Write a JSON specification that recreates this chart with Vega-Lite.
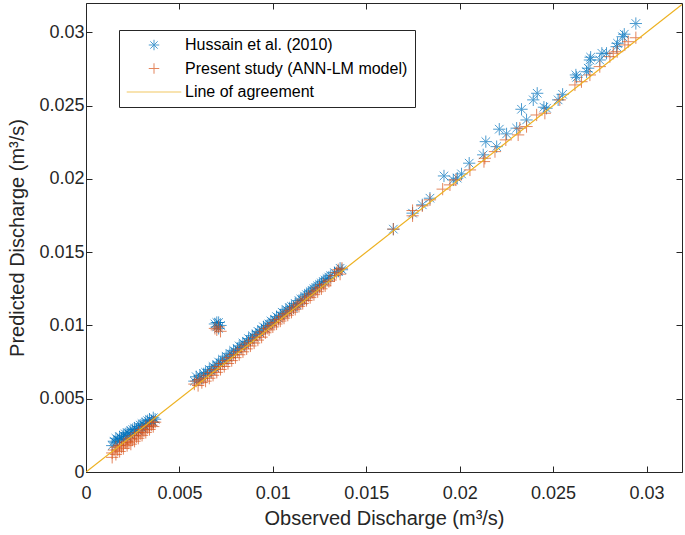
{
  "$schema": "https://vega.github.io/schema/vega-lite/v6.json",
  "autosize": "none",
  "width": 596,
  "height": 469,
  "padding": {"left": 86, "top": 3, "right": 3, "bottom": 63},
  "background": "white",
  "config": {
    "font": "Liberation Sans",
    "view": {"stroke": null},
    "axis": {"grid": false, "domainColor": "#262626", "tickColor": "#262626", "labelColor": "#262626", "titleColor": "#262626", "labelFont": "Liberation Sans", "titleFont": "Liberation Sans", "labelFontSize": 18, "titleFontSize": 20, "titleFontWeight": "normal", "tickSize": -6, "domainWidth": 1, "tickWidth": 1}
  },
  "datasets": {
    "pts": [
      {"obs":0.0014,"pred":0.0018,"series":"Hussain et al. (2010)"},
      {"obs":0.0015,"pred":0.0021,"series":"Hussain et al. (2010)"},
      {"obs":0.0016,"pred":0.0020,"series":"Hussain et al. (2010)"},
      {"obs":0.0016,"pred":0.0023,"series":"Hussain et al. (2010)"},
      {"obs":0.0017,"pred":0.0022,"series":"Hussain et al. (2010)"},
      {"obs":0.0018,"pred":0.0021,"series":"Hussain et al. (2010)"},
      {"obs":0.0018,"pred":0.0024,"series":"Hussain et al. (2010)"},
      {"obs":0.0019,"pred":0.0023,"series":"Hussain et al. (2010)"},
      {"obs":0.0020,"pred":0.0025,"series":"Hussain et al. (2010)"},
      {"obs":0.0020,"pred":0.0022,"series":"Hussain et al. (2010)"},
      {"obs":0.0021,"pred":0.0026,"series":"Hussain et al. (2010)"},
      {"obs":0.0022,"pred":0.0024,"series":"Hussain et al. (2010)"},
      {"obs":0.0022,"pred":0.0027,"series":"Hussain et al. (2010)"},
      {"obs":0.0023,"pred":0.0026,"series":"Hussain et al. (2010)"},
      {"obs":0.0024,"pred":0.0028,"series":"Hussain et al. (2010)"},
      {"obs":0.0024,"pred":0.0025,"series":"Hussain et al. (2010)"},
      {"obs":0.0025,"pred":0.0029,"series":"Hussain et al. (2010)"},
      {"obs":0.0026,"pred":0.0027,"series":"Hussain et al. (2010)"},
      {"obs":0.0026,"pred":0.0030,"series":"Hussain et al. (2010)"},
      {"obs":0.0027,"pred":0.0029,"series":"Hussain et al. (2010)"},
      {"obs":0.0028,"pred":0.0031,"series":"Hussain et al. (2010)"},
      {"obs":0.0028,"pred":0.0028,"series":"Hussain et al. (2010)"},
      {"obs":0.0029,"pred":0.0032,"series":"Hussain et al. (2010)"},
      {"obs":0.0030,"pred":0.0030,"series":"Hussain et al. (2010)"},
      {"obs":0.0030,"pred":0.0033,"series":"Hussain et al. (2010)"},
      {"obs":0.0031,"pred":0.0032,"series":"Hussain et al. (2010)"},
      {"obs":0.0032,"pred":0.0034,"series":"Hussain et al. (2010)"},
      {"obs":0.0032,"pred":0.0031,"series":"Hussain et al. (2010)"},
      {"obs":0.0033,"pred":0.0035,"series":"Hussain et al. (2010)"},
      {"obs":0.0034,"pred":0.0033,"series":"Hussain et al. (2010)"},
      {"obs":0.0034,"pred":0.0036,"series":"Hussain et al. (2010)"},
      {"obs":0.0035,"pred":0.0035,"series":"Hussain et al. (2010)"},
      {"obs":0.0036,"pred":0.0037,"series":"Hussain et al. (2010)"},
      {"obs":0.0036,"pred":0.0034,"series":"Hussain et al. (2010)"},
      {"obs":0.0037,"pred":0.0036,"series":"Hussain et al. (2010)"},
      {"obs":0.0058,"pred":0.0062,"series":"Hussain et al. (2010)"},
      {"obs":0.0059,"pred":0.0065,"series":"Hussain et al. (2010)"},
      {"obs":0.0060,"pred":0.0063,"series":"Hussain et al. (2010)"},
      {"obs":0.0061,"pred":0.0066,"series":"Hussain et al. (2010)"},
      {"obs":0.0062,"pred":0.0064,"series":"Hussain et al. (2010)"},
      {"obs":0.0063,"pred":0.0067,"series":"Hussain et al. (2010)"},
      {"obs":0.0064,"pred":0.0068,"series":"Hussain et al. (2010)"},
      {"obs":0.0065,"pred":0.0067,"series":"Hussain et al. (2010)"},
      {"obs":0.0066,"pred":0.0070,"series":"Hussain et al. (2010)"},
      {"obs":0.0067,"pred":0.0069,"series":"Hussain et al. (2010)"},
      {"obs":0.0068,"pred":0.0072,"series":"Hussain et al. (2010)"},
      {"obs":0.0069,"pred":0.0071,"series":"Hussain et al. (2010)"},
      {"obs":0.0070,"pred":0.0073,"series":"Hussain et al. (2010)"},
      {"obs":0.0071,"pred":0.0075,"series":"Hussain et al. (2010)"},
      {"obs":0.0072,"pred":0.0074,"series":"Hussain et al. (2010)"},
      {"obs":0.0073,"pred":0.0077,"series":"Hussain et al. (2010)"},
      {"obs":0.0074,"pred":0.0076,"series":"Hussain et al. (2010)"},
      {"obs":0.0075,"pred":0.0079,"series":"Hussain et al. (2010)"},
      {"obs":0.0076,"pred":0.0078,"series":"Hussain et al. (2010)"},
      {"obs":0.0077,"pred":0.0081,"series":"Hussain et al. (2010)"},
      {"obs":0.0078,"pred":0.0080,"series":"Hussain et al. (2010)"},
      {"obs":0.0079,"pred":0.0083,"series":"Hussain et al. (2010)"},
      {"obs":0.0080,"pred":0.0082,"series":"Hussain et al. (2010)"},
      {"obs":0.0081,"pred":0.0084,"series":"Hussain et al. (2010)"},
      {"obs":0.0082,"pred":0.0086,"series":"Hussain et al. (2010)"},
      {"obs":0.0083,"pred":0.0085,"series":"Hussain et al. (2010)"},
      {"obs":0.0084,"pred":0.0088,"series":"Hussain et al. (2010)"},
      {"obs":0.0085,"pred":0.0087,"series":"Hussain et al. (2010)"},
      {"obs":0.0086,"pred":0.0089,"series":"Hussain et al. (2010)"},
      {"obs":0.0087,"pred":0.0091,"series":"Hussain et al. (2010)"},
      {"obs":0.0088,"pred":0.0090,"series":"Hussain et al. (2010)"},
      {"obs":0.0089,"pred":0.0093,"series":"Hussain et al. (2010)"},
      {"obs":0.0090,"pred":0.0092,"series":"Hussain et al. (2010)"},
      {"obs":0.0091,"pred":0.0094,"series":"Hussain et al. (2010)"},
      {"obs":0.0092,"pred":0.0096,"series":"Hussain et al. (2010)"},
      {"obs":0.0093,"pred":0.0095,"series":"Hussain et al. (2010)"},
      {"obs":0.0094,"pred":0.0097,"series":"Hussain et al. (2010)"},
      {"obs":0.0095,"pred":0.0099,"series":"Hussain et al. (2010)"},
      {"obs":0.0096,"pred":0.0098,"series":"Hussain et al. (2010)"},
      {"obs":0.0097,"pred":0.0100,"series":"Hussain et al. (2010)"},
      {"obs":0.0098,"pred":0.0101,"series":"Hussain et al. (2010)"},
      {"obs":0.0099,"pred":0.0103,"series":"Hussain et al. (2010)"},
      {"obs":0.0100,"pred":0.0102,"series":"Hussain et al. (2010)"},
      {"obs":0.0101,"pred":0.0104,"series":"Hussain et al. (2010)"},
      {"obs":0.0102,"pred":0.0106,"series":"Hussain et al. (2010)"},
      {"obs":0.0103,"pred":0.0105,"series":"Hussain et al. (2010)"},
      {"obs":0.0104,"pred":0.0107,"series":"Hussain et al. (2010)"},
      {"obs":0.0105,"pred":0.0109,"series":"Hussain et al. (2010)"},
      {"obs":0.0106,"pred":0.0108,"series":"Hussain et al. (2010)"},
      {"obs":0.0107,"pred":0.0111,"series":"Hussain et al. (2010)"},
      {"obs":0.0108,"pred":0.0110,"series":"Hussain et al. (2010)"},
      {"obs":0.0109,"pred":0.0112,"series":"Hussain et al. (2010)"},
      {"obs":0.0110,"pred":0.0113,"series":"Hussain et al. (2010)"},
      {"obs":0.0111,"pred":0.0112,"series":"Hussain et al. (2010)"},
      {"obs":0.0112,"pred":0.0115,"series":"Hussain et al. (2010)"},
      {"obs":0.0113,"pred":0.0114,"series":"Hussain et al. (2010)"},
      {"obs":0.0114,"pred":0.0117,"series":"Hussain et al. (2010)"},
      {"obs":0.0115,"pred":0.0118,"series":"Hussain et al. (2010)"},
      {"obs":0.0116,"pred":0.0117,"series":"Hussain et al. (2010)"},
      {"obs":0.0117,"pred":0.0120,"series":"Hussain et al. (2010)"},
      {"obs":0.0118,"pred":0.0121,"series":"Hussain et al. (2010)"},
      {"obs":0.0119,"pred":0.0122,"series":"Hussain et al. (2010)"},
      {"obs":0.0120,"pred":0.0123,"series":"Hussain et al. (2010)"},
      {"obs":0.0121,"pred":0.0124,"series":"Hussain et al. (2010)"},
      {"obs":0.0122,"pred":0.0125,"series":"Hussain et al. (2010)"},
      {"obs":0.0123,"pred":0.0126,"series":"Hussain et al. (2010)"},
      {"obs":0.0124,"pred":0.0127,"series":"Hussain et al. (2010)"},
      {"obs":0.0125,"pred":0.0128,"series":"Hussain et al. (2010)"},
      {"obs":0.0126,"pred":0.0129,"series":"Hussain et al. (2010)"},
      {"obs":0.0127,"pred":0.0130,"series":"Hussain et al. (2010)"},
      {"obs":0.0128,"pred":0.0131,"series":"Hussain et al. (2010)"},
      {"obs":0.0129,"pred":0.0132,"series":"Hussain et al. (2010)"},
      {"obs":0.0130,"pred":0.0133,"series":"Hussain et al. (2010)"},
      {"obs":0.0131,"pred":0.0134,"series":"Hussain et al. (2010)"},
      {"obs":0.0133,"pred":0.0136,"series":"Hussain et al. (2010)"},
      {"obs":0.0135,"pred":0.0137,"series":"Hussain et al. (2010)"},
      {"obs":0.0136,"pred":0.0139,"series":"Hussain et al. (2010)"},
      {"obs":0.0137,"pred":0.0138,"series":"Hussain et al. (2010)"},
      {"obs":0.0069,"pred":0.0101,"series":"Hussain et al. (2010)"},
      {"obs":0.0070,"pred":0.0099,"series":"Hussain et al. (2010)"},
      {"obs":0.0071,"pred":0.0102,"series":"Hussain et al. (2010)"},
      {"obs":0.0072,"pred":0.0100,"series":"Hussain et al. (2010)"},
      {"obs":0.0070,"pred":0.0102,"series":"Hussain et al. (2010)"},
      {"obs":0.0071,"pred":0.0098,"series":"Hussain et al. (2010)"},
      {"obs":0.02943,"pred":0.03060,"series":"Hussain et al. (2010)"},
      {"obs":0.02881,"pred":0.02987,"series":"Hussain et al. (2010)"},
      {"obs":0.02872,"pred":0.02970,"series":"Hussain et al. (2010)"},
      {"obs":0.02845,"pred":0.02925,"series":"Hussain et al. (2010)"},
      {"obs":0.02840,"pred":0.02902,"series":"Hussain et al. (2010)"},
      {"obs":0.02786,"pred":0.02857,"series":"Hussain et al. (2010)"},
      {"obs":0.02761,"pred":0.02857,"series":"Hussain et al. (2010)"},
      {"obs":0.02750,"pred":0.02811,"series":"Hussain et al. (2010)"},
      {"obs":0.02701,"pred":0.02830,"series":"Hussain et al. (2010)"},
      {"obs":0.02697,"pred":0.02811,"series":"Hussain et al. (2010)"},
      {"obs":0.02688,"pred":0.02755,"series":"Hussain et al. (2010)"},
      {"obs":0.02679,"pred":0.02731,"series":"Hussain et al. (2010)"},
      {"obs":0.02626,"pred":0.02693,"series":"Hussain et al. (2010)"},
      {"obs":0.02622,"pred":0.02709,"series":"Hussain et al. (2010)"},
      {"obs":0.02551,"pred":0.02577,"series":"Hussain et al. (2010)"},
      {"obs":0.02527,"pred":0.02539,"series":"Hussain et al. (2010)"},
      {"obs":0.02465,"pred":0.02482,"series":"Hussain et al. (2010)"},
      {"obs":0.02451,"pred":0.02489,"series":"Hussain et al. (2010)"},
      {"obs":0.02415,"pred":0.02584,"series":"Hussain et al. (2010)"},
      {"obs":0.02394,"pred":0.02539,"series":"Hussain et al. (2010)"},
      {"obs":0.02358,"pred":0.02402,"series":"Hussain et al. (2010)"},
      {"obs":0.02331,"pred":0.02475,"series":"Hussain et al. (2010)"},
      {"obs":0.02305,"pred":0.02346,"series":"Hussain et al. (2010)"},
      {"obs":0.02251,"pred":0.02307,"series":"Hussain et al. (2010)"},
      {"obs":0.02212,"pred":0.02339,"series":"Hussain et al. (2010)"},
      {"obs":0.02198,"pred":0.02220,"series":"Hussain et al. (2010)"},
      {"obs":0.02140,"pred":0.02254,"series":"Hussain et al. (2010)"},
      {"obs":0.02126,"pred":0.02164,"series":"Hussain et al. (2010)"},
      {"obs":0.02051,"pred":0.02107,"series":"Hussain et al. (2010)"},
      {"obs":0.02010,"pred":0.02034,"series":"Hussain et al. (2010)"},
      {"obs":0.01987,"pred":0.02005,"series":"Hussain et al. (2010)"},
      {"obs":0.01966,"pred":0.01993,"series":"Hussain et al. (2010)"},
      {"obs":0.01916,"pred":0.02020,"series":"Hussain et al. (2010)"},
      {"obs":0.01841,"pred":0.01868,"series":"Hussain et al. (2010)"},
      {"obs":0.01800,"pred":0.01823,"series":"Hussain et al. (2010)"},
      {"obs":0.01748,"pred":0.01766,"series":"Hussain et al. (2010)"},
      {"obs":0.01645,"pred":0.01657,"series":"Hussain et al. (2010)"},
      {"obs":0.0014,"pred":0.0010,"series":"Present study (ANN-LM model)"},
      {"obs":0.0014,"pred":0.0013,"series":"Present study (ANN-LM model)"},
      {"obs":0.0015,"pred":0.0015,"series":"Present study (ANN-LM model)"},
      {"obs":0.0016,"pred":0.0012,"series":"Present study (ANN-LM model)"},
      {"obs":0.0016,"pred":0.0017,"series":"Present study (ANN-LM model)"},
      {"obs":0.0017,"pred":0.0015,"series":"Present study (ANN-LM model)"},
      {"obs":0.0018,"pred":0.0018,"series":"Present study (ANN-LM model)"},
      {"obs":0.0018,"pred":0.0014,"series":"Present study (ANN-LM model)"},
      {"obs":0.0019,"pred":0.0017,"series":"Present study (ANN-LM model)"},
      {"obs":0.0020,"pred":0.0019,"series":"Present study (ANN-LM model)"},
      {"obs":0.0020,"pred":0.0016,"series":"Present study (ANN-LM model)"},
      {"obs":0.0021,"pred":0.0020,"series":"Present study (ANN-LM model)"},
      {"obs":0.0022,"pred":0.0018,"series":"Present study (ANN-LM model)"},
      {"obs":0.0022,"pred":0.0021,"series":"Present study (ANN-LM model)"},
      {"obs":0.0023,"pred":0.0020,"series":"Present study (ANN-LM model)"},
      {"obs":0.0024,"pred":0.0023,"series":"Present study (ANN-LM model)"},
      {"obs":0.0024,"pred":0.0019,"series":"Present study (ANN-LM model)"},
      {"obs":0.0025,"pred":0.0022,"series":"Present study (ANN-LM model)"},
      {"obs":0.0026,"pred":0.0025,"series":"Present study (ANN-LM model)"},
      {"obs":0.0026,"pred":0.0021,"series":"Present study (ANN-LM model)"},
      {"obs":0.0027,"pred":0.0024,"series":"Present study (ANN-LM model)"},
      {"obs":0.0028,"pred":0.0027,"series":"Present study (ANN-LM model)"},
      {"obs":0.0028,"pred":0.0023,"series":"Present study (ANN-LM model)"},
      {"obs":0.0029,"pred":0.0026,"series":"Present study (ANN-LM model)"},
      {"obs":0.0030,"pred":0.0029,"series":"Present study (ANN-LM model)"},
      {"obs":0.0030,"pred":0.0025,"series":"Present study (ANN-LM model)"},
      {"obs":0.0031,"pred":0.0028,"series":"Present study (ANN-LM model)"},
      {"obs":0.0032,"pred":0.0031,"series":"Present study (ANN-LM model)"},
      {"obs":0.0032,"pred":0.0027,"series":"Present study (ANN-LM model)"},
      {"obs":0.0033,"pred":0.0030,"series":"Present study (ANN-LM model)"},
      {"obs":0.0034,"pred":0.0032,"series":"Present study (ANN-LM model)"},
      {"obs":0.0034,"pred":0.0029,"series":"Present study (ANN-LM model)"},
      {"obs":0.0035,"pred":0.0032,"series":"Present study (ANN-LM model)"},
      {"obs":0.0036,"pred":0.0034,"series":"Present study (ANN-LM model)"},
      {"obs":0.0036,"pred":0.0031,"series":"Present study (ANN-LM model)"},
      {"obs":0.0037,"pred":0.0034,"series":"Present study (ANN-LM model)"},
      {"obs":0.0058,"pred":0.0060,"series":"Present study (ANN-LM model)"},
      {"obs":0.0059,"pred":0.0062,"series":"Present study (ANN-LM model)"},
      {"obs":0.0060,"pred":0.0059,"series":"Present study (ANN-LM model)"},
      {"obs":0.0061,"pred":0.0063,"series":"Present study (ANN-LM model)"},
      {"obs":0.0062,"pred":0.0061,"series":"Present study (ANN-LM model)"},
      {"obs":0.0063,"pred":0.0064,"series":"Present study (ANN-LM model)"},
      {"obs":0.0064,"pred":0.0062,"series":"Present study (ANN-LM model)"},
      {"obs":0.0065,"pred":0.0066,"series":"Present study (ANN-LM model)"},
      {"obs":0.0066,"pred":0.0064,"series":"Present study (ANN-LM model)"},
      {"obs":0.0067,"pred":0.0068,"series":"Present study (ANN-LM model)"},
      {"obs":0.0068,"pred":0.0066,"series":"Present study (ANN-LM model)"},
      {"obs":0.0069,"pred":0.0070,"series":"Present study (ANN-LM model)"},
      {"obs":0.0070,"pred":0.0068,"series":"Present study (ANN-LM model)"},
      {"obs":0.0071,"pred":0.0072,"series":"Present study (ANN-LM model)"},
      {"obs":0.0072,"pred":0.0070,"series":"Present study (ANN-LM model)"},
      {"obs":0.0073,"pred":0.0074,"series":"Present study (ANN-LM model)"},
      {"obs":0.0074,"pred":0.0072,"series":"Present study (ANN-LM model)"},
      {"obs":0.0075,"pred":0.0076,"series":"Present study (ANN-LM model)"},
      {"obs":0.0076,"pred":0.0074,"series":"Present study (ANN-LM model)"},
      {"obs":0.0077,"pred":0.0078,"series":"Present study (ANN-LM model)"},
      {"obs":0.0078,"pred":0.0076,"series":"Present study (ANN-LM model)"},
      {"obs":0.0079,"pred":0.0080,"series":"Present study (ANN-LM model)"},
      {"obs":0.0080,"pred":0.0078,"series":"Present study (ANN-LM model)"},
      {"obs":0.0081,"pred":0.0082,"series":"Present study (ANN-LM model)"},
      {"obs":0.0082,"pred":0.0080,"series":"Present study (ANN-LM model)"},
      {"obs":0.0083,"pred":0.0084,"series":"Present study (ANN-LM model)"},
      {"obs":0.0084,"pred":0.0082,"series":"Present study (ANN-LM model)"},
      {"obs":0.0085,"pred":0.0086,"series":"Present study (ANN-LM model)"},
      {"obs":0.0086,"pred":0.0084,"series":"Present study (ANN-LM model)"},
      {"obs":0.0087,"pred":0.0088,"series":"Present study (ANN-LM model)"},
      {"obs":0.0088,"pred":0.0086,"series":"Present study (ANN-LM model)"},
      {"obs":0.0089,"pred":0.0090,"series":"Present study (ANN-LM model)"},
      {"obs":0.0090,"pred":0.0088,"series":"Present study (ANN-LM model)"},
      {"obs":0.0091,"pred":0.0092,"series":"Present study (ANN-LM model)"},
      {"obs":0.0092,"pred":0.0090,"series":"Present study (ANN-LM model)"},
      {"obs":0.0093,"pred":0.0094,"series":"Present study (ANN-LM model)"},
      {"obs":0.0094,"pred":0.0092,"series":"Present study (ANN-LM model)"},
      {"obs":0.0095,"pred":0.0096,"series":"Present study (ANN-LM model)"},
      {"obs":0.0096,"pred":0.0095,"series":"Present study (ANN-LM model)"},
      {"obs":0.0097,"pred":0.0098,"series":"Present study (ANN-LM model)"},
      {"obs":0.0098,"pred":0.0097,"series":"Present study (ANN-LM model)"},
      {"obs":0.0099,"pred":0.0100,"series":"Present study (ANN-LM model)"},
      {"obs":0.0100,"pred":0.0099,"series":"Present study (ANN-LM model)"},
      {"obs":0.0101,"pred":0.0102,"series":"Present study (ANN-LM model)"},
      {"obs":0.0102,"pred":0.0101,"series":"Present study (ANN-LM model)"},
      {"obs":0.0103,"pred":0.0104,"series":"Present study (ANN-LM model)"},
      {"obs":0.0104,"pred":0.0103,"series":"Present study (ANN-LM model)"},
      {"obs":0.0105,"pred":0.0106,"series":"Present study (ANN-LM model)"},
      {"obs":0.0106,"pred":0.0105,"series":"Present study (ANN-LM model)"},
      {"obs":0.0107,"pred":0.0108,"series":"Present study (ANN-LM model)"},
      {"obs":0.0108,"pred":0.0107,"series":"Present study (ANN-LM model)"},
      {"obs":0.0109,"pred":0.0110,"series":"Present study (ANN-LM model)"},
      {"obs":0.0110,"pred":0.0109,"series":"Present study (ANN-LM model)"},
      {"obs":0.0111,"pred":0.0112,"series":"Present study (ANN-LM model)"},
      {"obs":0.0112,"pred":0.0111,"series":"Present study (ANN-LM model)"},
      {"obs":0.0113,"pred":0.0114,"series":"Present study (ANN-LM model)"},
      {"obs":0.0114,"pred":0.0113,"series":"Present study (ANN-LM model)"},
      {"obs":0.0115,"pred":0.0116,"series":"Present study (ANN-LM model)"},
      {"obs":0.0116,"pred":0.0115,"series":"Present study (ANN-LM model)"},
      {"obs":0.0117,"pred":0.0118,"series":"Present study (ANN-LM model)"},
      {"obs":0.0118,"pred":0.0117,"series":"Present study (ANN-LM model)"},
      {"obs":0.0119,"pred":0.0120,"series":"Present study (ANN-LM model)"},
      {"obs":0.0120,"pred":0.0119,"series":"Present study (ANN-LM model)"},
      {"obs":0.0121,"pred":0.0122,"series":"Present study (ANN-LM model)"},
      {"obs":0.0122,"pred":0.0121,"series":"Present study (ANN-LM model)"},
      {"obs":0.0123,"pred":0.0124,"series":"Present study (ANN-LM model)"},
      {"obs":0.0124,"pred":0.0123,"series":"Present study (ANN-LM model)"},
      {"obs":0.0125,"pred":0.0126,"series":"Present study (ANN-LM model)"},
      {"obs":0.0126,"pred":0.0125,"series":"Present study (ANN-LM model)"},
      {"obs":0.0127,"pred":0.0128,"series":"Present study (ANN-LM model)"},
      {"obs":0.0128,"pred":0.0127,"series":"Present study (ANN-LM model)"},
      {"obs":0.0130,"pred":0.0130,"series":"Present study (ANN-LM model)"},
      {"obs":0.0131,"pred":0.0131,"series":"Present study (ANN-LM model)"},
      {"obs":0.0133,"pred":0.0134,"series":"Present study (ANN-LM model)"},
      {"obs":0.0134,"pred":0.0136,"series":"Present study (ANN-LM model)"},
      {"obs":0.0135,"pred":0.0138,"series":"Present study (ANN-LM model)"},
      {"obs":0.0136,"pred":0.0135,"series":"Present study (ANN-LM model)"},
      {"obs":0.0137,"pred":0.0139,"series":"Present study (ANN-LM model)"},
      {"obs":0.0069,"pred":0.0098,"series":"Present study (ANN-LM model)"},
      {"obs":0.0070,"pred":0.0097,"series":"Present study (ANN-LM model)"},
      {"obs":0.0071,"pred":0.0099,"series":"Present study (ANN-LM model)"},
      {"obs":0.0072,"pred":0.0096,"series":"Present study (ANN-LM model)"},
      {"obs":0.02943,"pred":0.02963,"series":"Present study (ANN-LM model)"},
      {"obs":0.02902,"pred":0.02936,"series":"Present study (ANN-LM model)"},
      {"obs":0.02884,"pred":0.02914,"series":"Present study (ANN-LM model)"},
      {"obs":0.02843,"pred":0.02868,"series":"Present study (ANN-LM model)"},
      {"obs":0.02822,"pred":0.02857,"series":"Present study (ANN-LM model)"},
      {"obs":0.02804,"pred":0.02834,"series":"Present study (ANN-LM model)"},
      {"obs":0.02750,"pred":0.02766,"series":"Present study (ANN-LM model)"},
      {"obs":0.02697,"pred":0.02709,"series":"Present study (ANN-LM model)"},
      {"obs":0.02652,"pred":0.02663,"series":"Present study (ANN-LM model)"},
      {"obs":0.02617,"pred":0.02641,"series":"Present study (ANN-LM model)"},
      {"obs":0.02536,"pred":0.02539,"series":"Present study (ANN-LM model)"},
      {"obs":0.02456,"pred":0.02448,"series":"Present study (ANN-LM model)"},
      {"obs":0.02412,"pred":0.02436,"series":"Present study (ANN-LM model)"},
      {"obs":0.02358,"pred":0.02357,"series":"Present study (ANN-LM model)"},
      {"obs":0.02322,"pred":0.02346,"series":"Present study (ANN-LM model)"},
      {"obs":0.02313,"pred":0.02300,"series":"Present study (ANN-LM model)"},
      {"obs":0.02247,"pred":0.02266,"series":"Present study (ANN-LM model)"},
      {"obs":0.02189,"pred":0.02186,"series":"Present study (ANN-LM model)"},
      {"obs":0.02135,"pred":0.02141,"series":"Present study (ANN-LM model)"},
      {"obs":0.02130,"pred":0.02118,"series":"Present study (ANN-LM model)"},
      {"obs":0.02055,"pred":0.02061,"series":"Present study (ANN-LM model)"},
      {"obs":0.01980,"pred":0.01993,"series":"Present study (ANN-LM model)"},
      {"obs":0.01948,"pred":0.01959,"series":"Present study (ANN-LM model)"},
      {"obs":0.01909,"pred":0.01930,"series":"Present study (ANN-LM model)"},
      {"obs":0.01841,"pred":0.01857,"series":"Present study (ANN-LM model)"},
      {"obs":0.01800,"pred":0.01816,"series":"Present study (ANN-LM model)"},
      {"obs":0.01748,"pred":0.01784,"series":"Present study (ANN-LM model)"},
      {"obs":0.01748,"pred":0.01748,"series":"Present study (ANN-LM model)"},
      {"obs":0.01645,"pred":0.01657,"series":"Present study (ANN-LM model)"}
    ],
    "agreement": [
      {"obs": 0, "pred": 0},
      {"obs": 0.0319, "pred": 0.0319}
    ]
  },
  "resolve": {"axis": {"x": "independent", "y": "independent"}},
  "layer": [
    {
      "data": {"name": "pts"},
      "mark": {"type": "point", "filled": false, "strokeWidth": 1, "size": 150, "clip": true},
      "encoding": {
        "x": {"field": "obs", "type": "quantitative", "scale": {"domain": [0, 0.0319], "nice": false, "zero": false},
              "axis": {"orient": "bottom", "title": "Observed Discharge (m³/s)", "format": "~g", "values": [0, 0.005, 0.01, 0.015, 0.02, 0.025, 0.03], "labelPadding": 18, "titlePadding": 6, "labelFlush": false, "labelOverlap": false}},
        "y": {"field": "pred", "type": "quantitative", "scale": {"domain": [0, 0.032], "nice": false, "zero": false},
              "axis": {"orient": "left", "title": "Predicted Discharge (m³/s)", "format": "~g", "values": [0, 0.005, 0.01, 0.015, 0.02, 0.025, 0.03], "labelPadding": 8, "titlePadding": 11, "labelFlush": false, "labelOverlap": false}},
        "color": {"field": "series", "type": "nominal",
                  "scale": {"domain": ["Hussain et al. (2010)", "Present study (ANN-LM model)", "Line of agreement"], "range": ["#0072BD", "#D95319", "#EDB120"]},
                  "legend": {"title": null, "orient": "none", "legendX": 33, "legendY": 27, "fillColor": "white", "strokeColor": "#262626", "padding": 7, "rowPadding": 7.5, "labelFontSize": 16, "labelColor": "#000000", "labelFont": "Liberation Sans", "labelLimit": 0, "symbolSize": 110, "symbolStrokeWidth": 1, "symbolOffset": 20, "labelOffset": 23}},
        "shape": {"field": "series", "type": "nominal",
                  "scale": {"domain": ["Hussain et al. (2010)", "Present study (ANN-LM model)", "Line of agreement"], "range": ["M-1,0L1,0M0,-1L0,1M-0.7,-0.7L0.7,0.7M-0.7,0.7L0.7,-0.7", "M-1,0L1,0M0,-1L0,1", "M-5.2,0L5.2,0"]},
                  "legend": null}
      }
    },
    {
      "data": {"name": "agreement"},
      "mark": {"type": "line", "color": "#EDB120", "strokeWidth": 1.2, "clip": true},
      "encoding": {
        "x": {"field": "obs", "type": "quantitative", "axis": {"orient": "top", "title": null, "labels": false, "values": [0, 0.005, 0.01, 0.015, 0.02, 0.025, 0.03]}},
        "y": {"field": "pred", "type": "quantitative", "axis": {"orient": "right", "title": null, "labels": false, "values": [0, 0.005, 0.01, 0.015, 0.02, 0.025, 0.03]}}
      }
    }
  ]
}
